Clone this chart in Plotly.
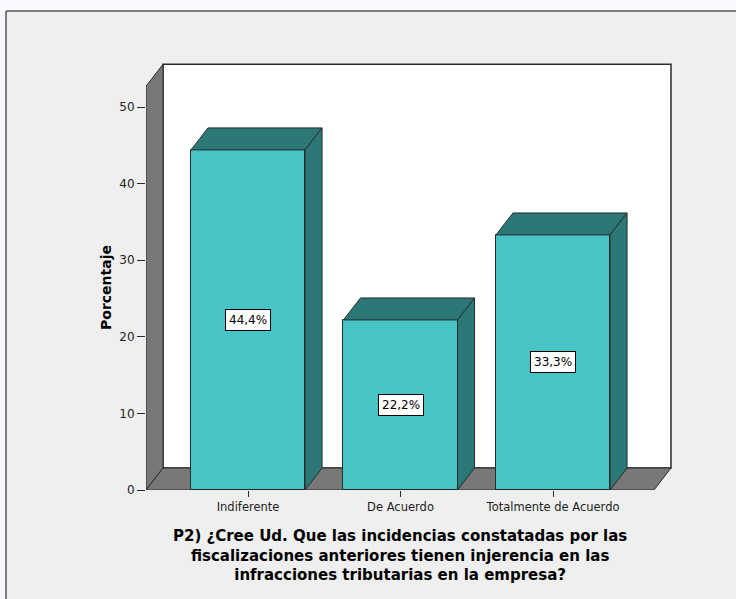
import plotly.graph_objects as go

# Survey answers and their share of respondents (%)
categories = ["Indiferente", "De Acuerdo", "Totalmente de Acuerdo"]
percentages = [44.4, 22.2, 33.3]
y_ticks = [0, 10, 20, 30, 40, 50]
title_lines = [
    "P2) ¿Cree Ud. Que las incidencias constatadas por las",
    "fiscalizaciones anteriores tienen injerencia en las",
    "infracciones tributarias en la empresa?",
]

# 3D look: depth offset in axis units, bar width, wall extents
DX, DY = 0.1115, 2.87
HALF = 0.374
X0, X1 = -0.669, 2.662
WALL_TOP = 52.7

FRONT = "#48c3c6"
DARK = "#2c7877"
GRAY = "#787878"
EDGE = "#2a2a2a"
FONT = "DejaVu Sans, Liberation Sans, Arial"

# plot area in pixels
L, R, T, B = 146, 46, 55, 109
W_PX, H_PX = 736 - L - R, 599 - T - B

xs = list(range(len(categories)))

fig = go.Figure()

# front faces of the bars
fig.add_trace(go.Bar(
    x=xs, y=percentages, width=2 * HALF,
    marker=dict(color=FRONT, line=dict(color=EDGE, width=1)),
    hoverinfo="skip", showlegend=False,
))

# top and side faces
for x, v in zip(xs, percentages):
    top_x = [x - HALF, x - HALF + DX, x + HALF + DX, x + HALF, x - HALF]
    top_y = [v, v + DY, v + DY, v, v]
    side_x = [x + HALF, x + HALF, x + HALF + DX, x + HALF + DX, x + HALF]
    side_y = [0, v, v + DY, DY, 0]
    for px, py in ((top_x, top_y), (side_x, side_y)):
        fig.add_trace(go.Scatter(
            x=px, y=py, mode="lines", fill="toself", fillcolor=DARK,
            line=dict(color=EDGE, width=1), hoverinfo="skip", showlegend=False,
        ))

shapes = []
# back wall, left wall, floor (behind the bars)
shapes.append(dict(type="path", xref="x", yref="y", layer="below",
                   path=f"M{X0+DX},{DY} L{X0+DX},{WALL_TOP+DY} L{X1+DX},{WALL_TOP+DY} L{X1+DX},{DY} Z",
                   fillcolor="white", line=dict(color=EDGE, width=1.5)))
shapes.append(dict(type="path", xref="x", yref="y", layer="below",
                   path=f"M{X0},0 L{X0},{WALL_TOP} L{X0+DX},{WALL_TOP+DY} L{X0+DX},{DY} Z",
                   fillcolor=GRAY, line=dict(color=EDGE, width=1)))
shapes.append(dict(type="path", xref="x", yref="y", layer="below",
                   path=f"M{X0},0 L{X0+DX},{DY} L{X1+DX},{DY} L{X1},0 Z",
                   fillcolor=GRAY, line=dict(color=EDGE, width=1)))


def px_x(p):
    return (p - L) / W_PX


def px_y(p):
    return (599 - B - p) / H_PX


# white margin outside the output frame and the frame edges
shapes.append(dict(type="rect", xref="paper", yref="paper", layer="below",
                   x0=px_x(-5), x1=px_x(750), y0=px_y(11), y1=px_y(-5),
                   fillcolor="#f7f9fc", line=dict(width=0)))
shapes.append(dict(type="rect", xref="paper", yref="paper", layer="below",
                   x0=px_x(-5), x1=px_x(6), y0=px_y(610), y1=px_y(-5),
                   fillcolor="#f7f9fc", line=dict(width=0)))
shapes.append(dict(type="line", xref="paper", yref="paper",
                   x0=px_x(6), x1=px_x(750), y0=px_y(11), y1=px_y(11),
                   line=dict(color="#7d7d7d", width=2)))
shapes.append(dict(type="line", xref="paper", yref="paper",
                   x0=px_x(6), x1=px_x(6), y0=px_y(11), y1=px_y(610),
                   line=dict(color="#7d7d7d", width=2)))

annotations = []
for x, v in zip(xs, percentages):
    annotations.append(dict(
        x=x, y=v / 2, xref="x", yref="y",
        text=f"{v:.1f}%".replace(".", ","), showarrow=False,
        font=dict(family=FONT, size=12, color="black"),
        bgcolor="white", bordercolor="black", borderwidth=1, borderpad=3,
    ))

annotations.append(dict(
    x=px_x(106), y=px_y(288), xref="paper", yref="paper",
    xanchor="center", yanchor="middle",
    text="<b>Porcentaje</b>", textangle=-90, showarrow=False,
    font=dict(family=FONT, size=14, color="black"),
))
annotations.append(dict(
    x=px_x(400), y=px_y(555), xref="paper", yref="paper",
    xanchor="center", yanchor="middle",
    text="<b>" + "<br>".join(title_lines) + "</b>", showarrow=False,
    font=dict(family=FONT, size=15, color="black"),
    align="center",
))

fig.update_layout(
    width=736, height=599,
    margin=dict(l=L, r=R, t=T, b=B, pad=0),
    paper_bgcolor="#efefef", plot_bgcolor="#efefef",
    shapes=shapes, annotations=annotations,
    xaxis=dict(
        range=[X0, X0 + W_PX / 152.5], tickvals=xs, ticktext=categories,
        showgrid=False, zeroline=False, showline=False,
        ticks="outside", ticklen=6, tickcolor=EDGE,
        tickfont=dict(family=FONT, size=11.5, color="#222"),
        fixedrange=True,
    ),
    yaxis=dict(
        range=[0, H_PX / 7.66], tickvals=y_ticks,
        showgrid=False, zeroline=False, showline=False,
        ticks="outside", ticklen=8, tickcolor=EDGE,
        tickfont=dict(family=FONT, size=12, color="#222"),
        fixedrange=True,
    ),
    bargap=0,
)

fig.write_html("out.html")
